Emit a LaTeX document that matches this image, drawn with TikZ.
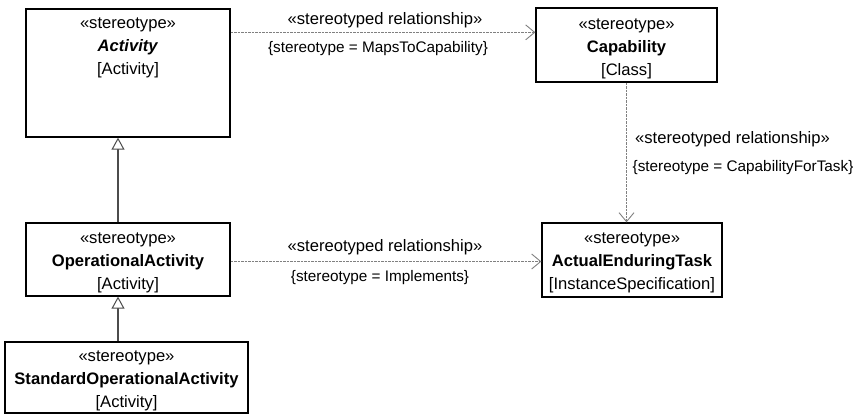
\documentclass[tikz,border=0pt]{standalone}
\usepackage{fontspec}
\setmainfont{Liberation Sans}
\usetikzlibrary{arrows.meta,calc}
\begin{document}
\begin{tikzpicture}[x=1pt,y=-1pt,
  box/.style={draw=black,line width=1.3pt,fill=white,inner sep=0pt,minimum width=#1},
  txt/.style={align=center,inner sep=0pt,font=\fontsize{16.6}{23}\selectfont},
  lbl/.style={inner sep=0pt,font=\fontsize{16.6}{19}\selectfont},
  lbr/.style={inner sep=0pt,font=\fontsize{15.3}{18}\selectfont},
  dep/.style={draw=black!50,line width=0.9pt,dash pattern=on 2.5pt off 1pt,
    -{Straight Barb[length=9pt,width=15pt,line width=0.9pt]}},
  gen/.style={draw=black!70,line width=1.2pt,
    -{Triangle[open,length=12pt,width=13pt,line width=1pt,fill=white]}}]
\useasboundingbox (0,0) rectangle (853,414);
% boxes
\node[box=204pt,minimum height=128pt] (act) at (128,73) {};
\node[txt] (actT) at (128,48) {«stereotype»\\\textbf{\textit{Activity}}\\{}[Activity]};
\node[box=181pt,minimum height=74pt] (cap) at (626.5,45) {};
\node[txt] (capT) at (626.5,49) {«stereotype»\\\textbf{Capability}\\{}[Class]};
\node[box=204pt,minimum height=73pt] (opa) at (128,259.5) {};
\node[txt] (opaT) at (128,263) {«stereotype»\\\textbf{OperationalActivity}\\{}[Activity]};
\node[box=180pt,minimum height=74pt] (aet) at (632,260) {};
\node[txt] (aetT) at (632,262.5) {«stereotype»\\\textbf{ActualEnduringTask}\\{}[InstanceSpecification]};
\node[box=243pt,minimum height=71pt] (sta) at (126.5,377.5) {};
\node[txt] (staT) at (126.5,380.5) {«stereotype»\\\textbf{StandardOperationalActivity}\\{}[Activity]};
% connectors
\coordinate (a1) at ([yshift=-24pt]act.north east);
\draw[dep] (a1) -- (a1 -| cap.west);
\node[lbl] (l1a) at (385,20) {«stereotyped relationship»};
\node[lbr] (l1b) at (378,49) {\{stereotype = MapsToCapability\}};
\draw[dep] (cap.south) -- (cap.south |- aet.north);
\node[lbl,anchor=west] (l2a) at (635,139) {«stereotyped relationship»};
\node[lbr,anchor=west] (l2b) at (632.5,168) {\{stereotype = CapabilityForTask\}};
\coordinate (o1) at ([yshift=-2pt]opa.east);
\draw[dep] (o1) -- (o1 -| aet.west);
\node[lbl] (l3a) at (385,247) {«stereotyped relationship»};
\node[lbr] (l3b) at (380,278) {\{stereotype = Implements\}};
\coordinate (g1) at ([xshift=-10pt]opa.north);
\draw[gen] (g1) -- (g1 |- act.south);
\coordinate (g2) at ([xshift=-8.5pt]sta.north);
\draw[gen] (g2) -- (g2 |- opa.south);
\end{tikzpicture}
\end{document}
